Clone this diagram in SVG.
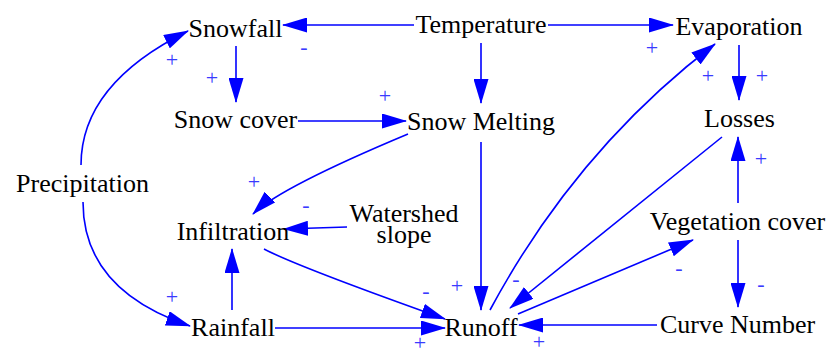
<svg xmlns="http://www.w3.org/2000/svg" width="831" height="354" viewBox="0 0 831 354">
<style>
.n{font-family:"Liberation Serif","Times New Roman",serif;font-size:26px;fill:#000;text-anchor:middle}
.l{font-family:"Liberation Serif","Times New Roman",serif;font-size:22px;fill:#3a3aff;text-anchor:middle}
.c{fill:none;stroke:#0000ff;stroke-width:1.6;marker-end:url(#ah)}
</style>
<defs>
<marker id="ah" markerUnits="userSpaceOnUse" markerWidth="25" markerHeight="15" refX="24" refY="7.5" orient="auto" viewBox="0 0 25 15">
<path d="M0,0 L25,7.5 L0,15 z" fill="#0000ff"/>
</marker>
</defs>
<rect width="831" height="354" fill="#fff"/>
<g id="connectors">
<path class="c" d="M414,25 L283,25"/>
<path class="c" d="M548,25 L673,25"/>
<path class="c" d="M481,43 L481,103"/>
<path class="c" d="M236,46 L236,102"/>
<path class="c" d="M298,121 L406,121"/>
<path class="c" d="M81,165 Q81,84 188,31"/>
<path class="c" d="M83,202 Q83,290 190,326"/>
<path class="c" d="M232,310 L232,249"/>
<path class="c" d="M275,328 L445,328"/>
<path class="c" d="M347,227 L284,229"/>
<path class="c" d="M408,134 Q279,188 253,214"/>
<path class="c" d="M264,249 Q296,266 445,319"/>
<path class="c" d="M481,142 L481,310"/>
<path class="c" d="M490,310 Q576,150 715,44"/>
<path class="c" d="M739,45 L739,100"/>
<path class="c" d="M722,137 L510,308"/>
<path class="c" d="M738,203 L738,137"/>
<path class="c" d="M518,314 L693,240"/>
<path class="c" d="M738,240 L738,307"/>
<path class="c" d="M657,325 L519,325"/>
</g>
<g id="link-labels">
<text class="l" x="304" y="54">-</text>
<text class="l" x="652" y="55">+</text>
<text class="l" x="385" y="103">+</text>
<text class="l" x="212" y="85">+</text>
<text class="l" x="172" y="67">+</text>
<text class="l" x="172" y="304">+</text>
<text class="l" x="420" y="350">+</text>
<text class="l" x="306" y="212">-</text>
<text class="l" x="254" y="189">+</text>
<text class="l" x="426" y="298">-</text>
<text class="l" x="457" y="293">+</text>
<text class="l" x="516" y="286">-</text>
<text class="l" x="708" y="83">+</text>
<text class="l" x="762" y="83">+</text>
<text class="l" x="761" y="166">+</text>
<text class="l" x="679" y="275">-</text>
<text class="l" x="761" y="291">-</text>
<text class="l" x="539" y="349">+</text>
</g>
<g id="nodes">
<g id="snowfall"><text class="n" x="235.5" y="37">Snowfall</text></g>
<g id="temperature"><text class="n" x="481" y="33">Temperature</text></g>
<g id="evaporation"><text class="n" x="739" y="35">Evaporation</text></g>
<g id="snow-cover"><text class="n" x="235.5" y="128">Snow cover</text></g>
<g id="snow-melting"><text class="n" x="481" y="130">Snow Melting</text></g>
<g id="losses"><text class="n" x="739.5" y="127">Losses</text></g>
<g id="precipitation"><text class="n" x="82.5" y="192">Precipitation</text></g>
<g id="infiltration"><text class="n" x="233" y="240">Infiltration</text></g>
<g id="watershed-slope"><text class="n" x="404" y="222">Watershed</text><text class="n" x="404" y="243">slope</text></g>
<g id="vegetation-cover"><text class="n" x="737.5" y="230">Vegetation cover</text></g>
<g id="rainfall"><text class="n" x="233" y="336">Rainfall</text></g>
<g id="runoff"><text class="n" x="481" y="336">Runoff</text></g>
<g id="curve-number"><text class="n" x="737.5" y="333">Curve Number</text></g>
</g>
</svg>
